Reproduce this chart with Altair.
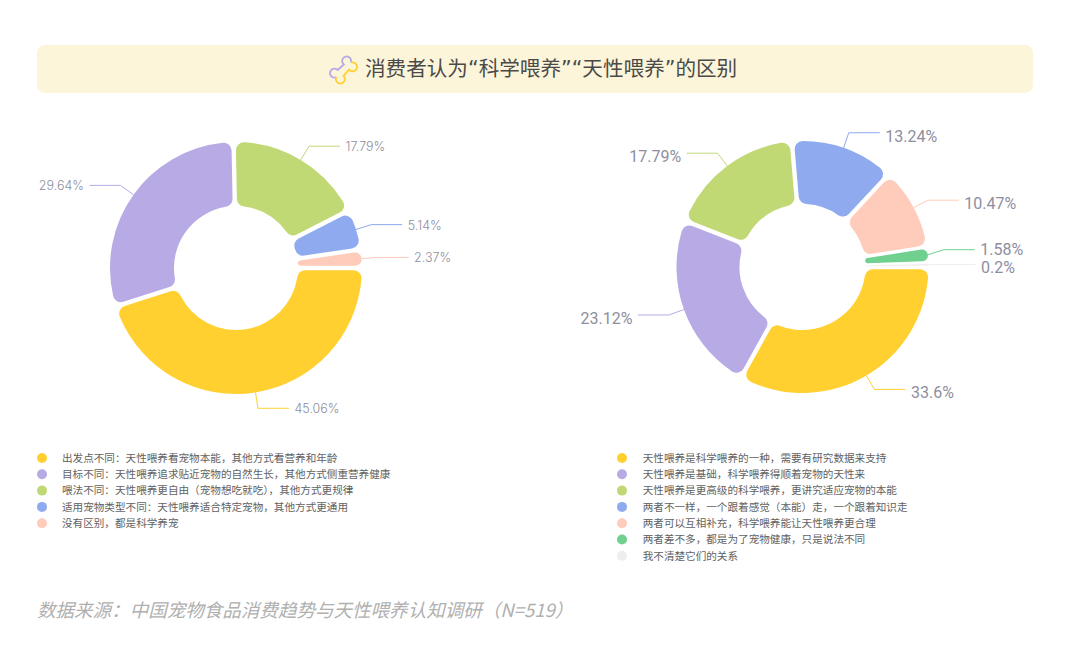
import math
import altair as alt
import pandas as pd

W, H = 1064, 640
OX, OY = 8, 8

title_text = "消费者认为“科学喂养”“天性喂养”的区别"
source_text = "数据来源：中国宠物食品消费趋势与天性喂养认知调研（N=519）"

colors = ["#FFD02F", "#B8ABE5", "#C0D975", "#8FAAEF", "#FFCCBC", "#6FD08F", "#EEEEEE"]

left_values = [45.06, 29.64, 17.79, 5.14, 2.37]
left_labels = ["45.06%", "29.64%", "17.79%", "5.14%", "2.37%"]
left_legend = [
    "出发点不同：天性喂养看宠物本能，其他方式看营养和年龄",
    "目标不同：天性喂养追求贴近宠物的自然生长，其他方式侧重营养健康",
    "喂法不同：天性喂养更自由（宠物想吃就吃），其他方式更规律",
    "适用宠物类型不同：天性喂养适合特定宠物，其他方式更通用",
    "没有区别，都是科学养宠",
]

right_values = [33.6, 23.12, 17.79, 13.24, 10.47, 1.58, 0.2]
right_labels = ["33.6%", "23.12%", "17.79%", "13.24%", "10.47%", "1.58%", "0.2%"]
right_legend = [
    "天性喂养是科学喂养的一种，需要有研究数据来支持",
    "天性喂养是基础，科学喂养得顺着宠物的天性来",
    "天性喂养是更高级的科学喂养，更讲究适应宠物的本能",
    "两者不一样，一个跟着感觉（本能）走，一个跟着知识走",
    "两者可以互相补充，科学喂养能让天性喂养更合理",
    "两者差不多，都是为了宠物健康，只是说法不同",
    "我不清楚它们的关系",
]


def build(values, labels, cx, cy, pad_deg, label_dy, elbow_shift=None, text_dy=None):
    elbow_shift = elbow_shift or {}
    text_dy = text_dy or {}
    avail = 360 - len(values) * pad_deg
    total = sum(values)
    arcs, lines, texts = [], [], []
    a = 90.0
    for i, v in enumerate(values):
        core = v / total * avail
        span = core + pad_deg
        mid = a + span / 2
        m = math.radians(mid)
        sx, cx_ = math.sin(m), -math.cos(m)
        arcs.append({"a0": math.radians(a), "a1": math.radians(a + span),
                     "m0": math.radians(mid - core / 2), "m1": math.radians(mid + core / 2),
                     "color": colors[i], "v": v})
        px, py = cx + 126 * sx, cy + 126 * cx_
        ex, ey = cx + 142 * sx, cy + 142 * cx_ + elbow_shift.get(i, 0)
        side = 1 if sx >= 0 else -1
        fx = ex + side * 31
        for k, (x, y) in enumerate([(px, py), (ex, ey), (fx, ey)]):
            lines.append({"x": x, "y": y, "k": k, "s": i, "color": colors[i]})
        texts.append({"x": fx + side * 5.5, "y": ey + text_dy.get(i, label_dy),
                      "t": labels[i], "align": "left" if side > 0 else "right"})
        a += span
    return pd.DataFrame(arcs), pd.DataFrame(lines), pd.DataFrame(texts)


def donut(values, labels, cx, cy, r0, pad_deg, label_dy, font, size, weight, elbow_shift=None, text_dy=None):
    arcs, lines, texts = build(values, labels, cx, cy, pad_deg, label_dy, elbow_shift, text_dy)
    big = arcs[arcs.v >= 2]
    thin = arcs[(arcs.v < 2) & (arcs.v >= 0.5)]
    tiny = arcs[arcs.v < 0.5]
    enc = dict(x=alt.value(cx - OX), y=alt.value(cy - OY),
               color=alt.Color("color:N", scale=None, legend=None))
    out = [
        alt.Chart(lines.assign(x=lines.x - OX, y=lines.y - OY)).mark_line(strokeWidth=1).encode(
            x=alt.X("x:Q", scale=None, axis=None), y=alt.Y("y:Q", scale=None, axis=None),
            order="k:Q", detail="s:N", color=alt.Color("color:N", scale=None, legend=None)),
        alt.Chart(big).mark_arc(radius=126, radius2=r0, cornerRadius=8, padAngle=0.031).encode(
            theta=alt.Theta("a0:Q", scale=None), theta2="a1:Q", **enc),
    ]
    if len(thin):
        out.append(alt.Chart(thin).mark_arc(radius=126, radius2=r0, cornerRadius=8, padAngle=0.02).encode(
            theta=alt.Theta("a0:Q", scale=None), theta2="a1:Q", **enc))
    if len(tiny):
        out.append(alt.Chart(tiny).mark_arc(radius=126, radius2=r0).encode(
            theta=alt.Theta("m0:Q", scale=None), theta2="m1:Q", **enc))
    for al in ("left", "right"):
        sub = texts[texts["align"] == al]
        out.append(alt.Chart(sub.assign(x=sub.x - OX, y=sub.y - OY)).mark_text(
            align=al, baseline="middle", font=font, fontSize=size, fontWeight=weight, color="#8E8E9E"
        ).encode(x=alt.X("x:Q", scale=None, axis=None), y=alt.Y("y:Q", scale=None, axis=None), text="t:N"))
    return out


def legend(items, dot_x, text_x):
    df = pd.DataFrame({
        "t": items,
        "color": colors[: len(items)],
        "y": [458 - OY + i * 16.3 for i in range(len(items))],
    })
    df["ty"] = df.y + 0.8
    return [
        alt.Chart(df).mark_point(shape="circle", filled=True, size=100, opacity=1).encode(
            x=alt.value(dot_x - OX), y=alt.Y("y:Q", scale=None, axis=None),
            color=alt.Color("color:N", scale=None, legend=None)),
        alt.Chart(df).mark_text(align="left", baseline="middle", font="Noto Sans CJK SC",
                                fontSize=10.6, color="#626262").encode(
            x=alt.value(text_x - OX), y=alt.Y("ty:Q", scale=None, axis=None), text="t:N"),
    ]


def bone_path(sign):
    c, r, u0 = 0.32, 0.30, 0.62
    pts = []
    for deg in range(250, -8, -10):
        pts.append((-u0 + c * math.cos(math.radians(deg)), r + c * math.sin(math.radians(deg))))
    for deg in range(187, -71, -10):
        pts.append((u0 + c * math.cos(math.radians(deg)), r + c * math.sin(math.radians(deg))))
    k = math.sqrt(0.5)
    out = []
    for u, v in pts:
        v = v * sign
        out.append((u * k - v * k, -u * k - v * k))
    return "M" + "L".join(f"{x:.3f},{y:.3f}" for x, y in out)


bar = alt.Chart(pd.DataFrame({"a": [0]})).mark_rect(cornerRadius=8, color="#FDF5D9").encode(
    x=alt.value(37 - OX), x2=alt.value(1033 - OX), y=alt.value(45 - OY), y2=alt.value(93 - OY))
title = alt.Chart(pd.DataFrame({"t": [title_text]})).mark_text(
    align="left", baseline="middle", font="DejaVu Sans, Noto Sans CJK SC", fontSize=20.6, color="#4A4A4A"
).encode(x=alt.value(365 - OX), y=alt.value(70 - OY), text="t:N")
bone = [
    alt.Chart(pd.DataFrame({"a": [0]})).mark_point(
        shape=bone_path(s), size=773, filled=False, stroke=col, strokeWidth=1.8, opacity=1
    ).encode(x=alt.value(343.5 - OX), y=alt.value(70 - OY))
    for s, col in ((1, "#B8ABE5"), (-1, "#FFD02F"))
]
source = alt.Chart(pd.DataFrame({"t": [source_text]})).mark_text(
    align="left", baseline="middle", font="Noto Sans CJK SC", fontSize=18.55, fontStyle="italic", color="#B0B0B0"
).encode(x=alt.value(37 - OX), y=alt.value(611 - OY), text="t:N")

layers = [bar, title] + bone
layers += donut(left_values, left_labels, 236, 268, 62, 0, 1, "Inter", 12.5, 300)
layers += donut(right_values, right_labels, 802.5, 267, 63, 1.4, 4, "Roboto", 16, 400,
                elbow_shift={5: -3.5}, text_dy={5: 0})
layers += legend(left_legend, 42, 62)
layers += legend(right_legend, 622, 642.7)
layers.append(source)

chart = alt.layer(*layers).properties(
    width=W, height=H, background="white",
    padding=0, autosize=alt.AutoSizeParams(type="none"),
).configure_view(stroke=None)

chart.save("out.html", embed_options={"renderer": "svg", "actions": False})
